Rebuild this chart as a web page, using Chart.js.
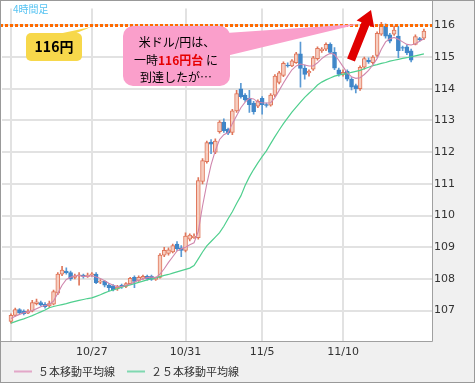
<!DOCTYPE html>
<html><head><meta charset="utf-8">
<script src="https://cdn.jsdelivr.net/npm/chart.js@4.4.1/dist/chart.umd.min.js"></script>
<style>
html,body{margin:0;padding:0;background:#f0f0f0;}
canvas{display:block;}
</style></head><body>
<canvas id="c" width="475" height="383"></canvas>
<script>
// ---- data (USD/JPY, 4-hour candles) ----
const openP  = [106.66,106.85,107.03,106.98,106.92,106.98,107.22,107.25,107.20,107.15,107.20,107.55,108.15,108.25,108.20,108.05,108.10,108.12,108.08,108.12,
108.15,107.90,107.92,107.80,107.78,107.68,107.80,107.76,107.85,108.05,107.95,108.02,108.08,108.08,107.98,108.05,108.75,108.80,108.85,109.10,
108.98,108.90,109.25,109.30,109.30,111.08,111.70,112.32,112.00,112.65,112.95,112.72,112.62,113.30,114.00,113.80,113.70,113.55,113.45,113.70,
113.50,113.48,113.80,114.20,114.42,114.75,114.72,114.82,115.10,114.65,114.50,114.62,114.95,115.20,115.25,115.40,115.15,114.60,114.45,114.55,
114.30,114.10,114.00,114.68,114.90,114.82,115.05,115.72,115.97,115.70,115.72,115.66,115.30,115.32,115.20,115.40,115.58,115.60];
const highP  = [106.90,107.08,107.06,107.02,107.03,107.32,107.36,107.30,107.25,107.30,107.65,108.20,108.40,108.35,108.25,108.15,108.20,108.15,108.18,108.20,
108.20,107.98,107.95,107.85,107.82,107.80,107.84,107.88,108.05,108.10,108.10,108.12,108.12,108.12,108.06,108.80,109.00,108.98,109.10,109.18,
109.05,109.45,109.42,109.42,111.20,111.80,112.35,112.40,112.42,113.00,113.05,112.76,113.35,113.95,114.17,113.85,113.95,113.60,113.65,113.75,
113.55,113.85,114.45,114.55,114.85,114.82,114.92,115.15,115.47,114.75,114.60,115.02,115.32,115.30,115.45,115.45,115.30,114.65,114.60,114.60,
114.35,114.15,114.72,115.00,114.98,115.05,115.80,116.10,116.05,115.75,115.98,115.97,115.35,115.38,115.25,115.70,115.62,115.88];
const lowP   = [106.60,106.82,106.90,106.86,106.90,106.96,107.18,107.15,107.08,107.10,107.18,107.50,108.10,108.15,107.95,108.00,107.80,108.02,108.05,108.08,
107.85,107.85,107.75,107.62,107.62,107.64,107.70,107.72,107.82,107.72,107.92,107.98,107.96,107.95,107.95,108.02,108.70,108.75,108.82,108.90,
108.70,108.85,109.20,109.28,109.25,111.00,111.65,111.95,111.95,112.60,112.62,112.55,112.55,113.25,113.70,113.60,113.25,113.20,113.40,113.20,
113.42,113.45,113.75,114.15,114.38,114.68,114.70,114.80,114.05,114.30,114.40,114.58,114.90,115.15,115.20,115.10,114.60,114.40,114.40,114.25,
113.96,113.87,113.95,114.62,114.80,114.78,115.00,115.68,115.60,115.45,115.68,114.98,115.20,115.08,114.85,115.38,115.50,115.55];
const closeP = [106.85,107.03,106.93,106.90,106.98,107.25,107.28,107.18,107.12,107.22,107.60,108.15,108.28,108.20,108.00,108.10,108.13,108.08,108.12,108.16,
107.88,107.93,107.80,107.72,107.65,107.74,107.75,107.85,108.02,107.92,108.05,108.08,108.00,107.98,108.02,108.75,108.90,108.92,109.05,108.95,
108.90,109.35,109.38,109.35,111.10,111.73,112.30,112.25,112.35,112.95,112.68,112.60,113.30,113.85,113.75,113.65,113.50,113.28,113.60,113.50,
113.48,113.80,114.40,114.50,114.80,114.72,114.88,115.10,114.64,114.45,114.55,114.98,115.28,115.25,115.40,115.15,114.65,114.45,114.52,114.30,
114.05,114.00,114.68,114.95,114.85,115.00,115.75,116.03,115.66,115.50,115.85,115.20,115.28,115.13,114.90,115.65,115.55,115.82];
const ma5  = [106.75,106.82,106.88,106.93,106.96,107.00,107.06,107.12,107.16,107.20,107.30,107.55,107.80,107.98,108.05,108.10,108.10,108.08,108.08,108.10,
108.06,108.01,107.94,107.86,107.80,107.76,107.76,107.80,107.84,107.90,107.96,108.00,108.04,108.06,108.04,108.15,108.32,108.52,108.70,108.88,
108.95,109.00,109.08,109.14,109.50,110.30,111.00,111.60,112.05,112.40,112.55,112.62,112.90,113.15,113.40,113.58,113.70,113.68,113.58,113.56,
113.55,113.56,113.72,113.95,114.18,114.40,114.60,114.72,114.78,114.75,114.72,114.72,114.82,114.95,115.05,115.12,115.08,114.90,114.70,114.50,
114.38,114.33,114.35,114.45,114.58,114.75,114.95,115.25,115.48,115.58,115.62,115.56,115.48,115.40,115.38,115.42,115.50,115.58];
const ma25 = [106.60,106.65,106.70,106.74,106.79,106.84,106.90,106.96,107.02,107.09,107.13,107.16,107.19,107.22,107.26,107.29,107.32,107.35,107.38,107.40,
107.45,107.50,107.56,107.61,107.65,107.69,107.74,107.78,107.81,107.85,107.89,107.93,107.97,108.00,108.03,108.07,108.11,108.14,108.18,108.22,
108.26,108.30,108.34,108.42,108.63,108.85,109.04,109.18,109.32,109.46,109.66,109.90,110.12,110.38,110.62,110.95,111.22,111.45,111.66,111.86,
112.04,112.27,112.49,112.70,112.90,113.08,113.26,113.42,113.58,113.73,113.86,113.98,114.12,114.21,114.28,114.34,114.40,114.43,114.46,114.48,
114.52,114.55,114.58,114.63,114.68,114.73,114.76,114.80,114.83,114.87,114.90,114.93,114.96,114.98,115.01,115.04,115.07,115.10];
const xTickIdx    = [0, 19, 41, 59, 78];
const xTickLabels = ['', '10/27', '10/31', '11/5', '11/10'];
const yTicks = [107,108,109,110,111,112,113,114,115,116];
const levelValue = 116;
const seriesNames = ['５本移動平均線', '２５本移動平均線'];
const titleText = '4時間足';

// ---- styles ----
const UP_FILL = '#f6cdbf', UP_LINE = '#e0765a', DN_FILL = '#3f86c8', DN_WICK = '#5a9ad4';
const tickFont = {family: 'DejaVu Sans', size: 11};
const CJK = '"Noto Sans CJK JP", sans-serif';

const isUp = i => closeP[i] >= openP[i];
const bodyData = openP.map((o, i) => {
  let a = Math.min(o, closeP[i]), b = Math.max(o, closeP[i]);
  if (b - a < 0.02) { const m = (a + b) / 2; a = m - 0.012; b = m + 0.012; }
  return {x: i, y: [a, b]};
});
const wickData = lowP.map((l, i) => ({x: i, y: [l, highP[i]]}));

const deco = {
  id: 'deco',
  beforeDraw(chart) {
    const ctx = chart.ctx, ca = chart.chartArea;
    ctx.save();
    ctx.fillStyle = '#f0f0f0';
    ctx.fillRect(0, 0, chart.width, chart.height);
    ctx.fillStyle = '#ffffff';
    ctx.fillRect(0, 0, ca.right, ca.bottom);
    ctx.restore();
  },
  afterDatasetsDraw(chart) {
    const ctx = chart.ctx, ca = chart.chartArea;
    const ys = chart.scales.y;
    const yl = Math.round(ys.getPixelForValue(levelValue));
    ctx.save();
    // dotted level line
    ctx.strokeStyle = '#ff6a00';
    ctx.lineWidth = 3;
    ctx.setLineDash([3, 2]);
    ctx.beginPath();
    ctx.moveTo(0, yl + 0.5); ctx.lineTo(ca.right, yl + 0.5);
    ctx.stroke();
    ctx.setLineDash([]);

    // yellow callout
    ctx.fillStyle = '#f7d84b';
    ctx.beginPath(); ctx.roundRect(26, 33, 56, 28, 5); ctx.fill();
    ctx.beginPath(); ctx.moveTo(58, 34); ctx.lineTo(74, 34); ctx.lineTo(91, yl + 2); ctx.closePath(); ctx.fill();
    ctx.fillStyle = '#000';
    ctx.font = 'bold 14px ' + CJK;
    ctx.textAlign = 'center'; ctx.textBaseline = 'middle';
    ctx.fillText('116円', 54, 47);

    // pink callout
    ctx.fillStyle = '#fa9fcb';
    ctx.beginPath(); ctx.roundRect(123, 26, 107, 60, 10); ctx.fill();
    ctx.beginPath(); ctx.moveTo(226, 33); ctx.lineTo(226, 56); ctx.lineTo(359, yl - 1); ctx.closePath(); ctx.fill();
    ctx.fillStyle = '#000';
    ctx.font = '12px ' + CJK;
    ctx.fillText('米ドル/円は、', 177, 42);
    ctx.fillText('到達したが…', 176, 77);
    // mixed line
    const p1 = '一時', p2 = '116円台', p3 = ' に';
    ctx.font = '12px ' + CJK; const w1 = ctx.measureText(p1).width, w3 = ctx.measureText(p3).width;
    ctx.font = 'bold 12px ' + CJK; const w2 = ctx.measureText(p2).width;
    let x0 = 176 - (w1 + w2 + w3) / 2;
    ctx.textAlign = 'left';
    ctx.font = '12px ' + CJK; ctx.fillStyle = '#000'; ctx.fillText(p1, x0, 60);
    ctx.font = 'bold 12px ' + CJK; ctx.fillStyle = '#e60000'; ctx.fillText(p2, x0 + w1, 60);
    ctx.font = '12px ' + CJK; ctx.fillStyle = '#000'; ctx.fillText(p3, x0 + w1 + w2, 60);

    // red arrow
    const tail = [351, 60], tip = [371, 10];
    const dx = tip[0] - tail[0], dy = tip[1] - tail[1], L = Math.hypot(dx, dy);
    const ux = dx / L, uy = dy / L, nx = -uy, ny = ux;
    const hl = 15, hw = 9.5, sw = 4.2;
    const bx = tip[0] - ux * hl, by = tip[1] - uy * hl;
    ctx.fillStyle = '#e00000';
    ctx.beginPath();
    ctx.moveTo(tail[0] + nx * sw, tail[1] + ny * sw);
    ctx.lineTo(bx + nx * sw, by + ny * sw);
    ctx.lineTo(bx + nx * hw, by + ny * hw);
    ctx.lineTo(tip[0], tip[1]);
    ctx.lineTo(bx - nx * hw, by - ny * hw);
    ctx.lineTo(bx - nx * sw, by - ny * sw);
    ctx.lineTo(tail[0] - nx * sw, tail[1] - ny * sw);
    ctx.closePath(); ctx.fill();

    // title
    ctx.fillStyle = '#55c3f2';
    ctx.font = '10px ' + CJK;
    ctx.textAlign = 'left'; ctx.textBaseline = 'middle';
    ctx.fillText(titleText, 13, 9);
    ctx.restore();
  },
  afterDraw(chart) {
    const ctx = chart.ctx, ca = chart.chartArea;
    ctx.save();
    // frames
    ctx.strokeStyle = '#a0a0a0'; ctx.lineWidth = 1;
    ctx.beginPath();
    ctx.moveTo(ca.right + 0.5, 0); ctx.lineTo(ca.right + 0.5, ca.bottom + 0.5);
    ctx.lineTo(0, ca.bottom + 0.5);
    ctx.stroke();
    ctx.strokeStyle = '#999999';
    ctx.strokeRect(0.5, 0.5, chart.width - 1, chart.height - 1);
    // legend
    let x = 14; const y = 371.5;
    ctx.font = '11px ' + CJK; ctx.textBaseline = 'middle'; ctx.textAlign = 'left';
    [0, 1].forEach(k => {
      const ds = chart.data.datasets[k];
      ctx.strokeStyle = ds.legendColor; ctx.lineWidth = 2;
      ctx.beginPath(); ctx.moveTo(x, y); ctx.lineTo(x + 18, y); ctx.stroke();
      ctx.fillStyle = '#333';
      ctx.fillText(ds.label, x + 24, y);
      x += 24 + ctx.measureText(ds.label).width + 12;
    });
    ctx.restore();
  }
};

new Chart(document.getElementById('c'), {
  type: 'bar',
  data: {
    datasets: [
      {type: 'line', label: seriesNames[0], data: ma5.map((v, i) => ({x: i, y: v})),
       borderColor: '#cf86ad', legendColor: '#e3a7c8', borderWidth: 1.1, pointRadius: 0, tension: 0, order: 0},
      {type: 'line', label: seriesNames[1], data: ma25.map((v, i) => ({x: i, y: v})),
       borderColor: '#4fcf8e', legendColor: '#7fd8b0', borderWidth: 1.2, pointRadius: 0, tension: 0, order: 0},
      {type: 'bar', label: 'wick', data: wickData, grouped: false, barThickness: 1, order: 2,
       backgroundColor: c => isUp(c.dataIndex) ? UP_LINE : DN_WICK, borderWidth: 0},
      {type: 'bar', label: 'body', data: bodyData, grouped: false, barThickness: 4, order: 1,
       backgroundColor: c => isUp(c.dataIndex) ? UP_FILL : DN_FILL,
       borderColor: c => isUp(c.dataIndex) ? UP_LINE : DN_FILL,
       borderWidth: 1, borderSkipped: false}
    ]
  },
  options: {
    responsive: false, animation: false, devicePixelRatio: 1,
    layout: {padding: {left: 2, top: 2, right: 0, bottom: 0}},
    plugins: {legend: {display: false}, tooltip: {enabled: false}},
    scales: {
      x: {type: 'linear', min: -2.11, max: 98.9, offset: false,
          grid: {color: '#e2e2e2', lineWidth: 2, drawTicks: false, offset: false},
          border: {display: false},
          afterBuildTicks: s => { s.ticks = xTickIdx.map(v => ({value: v})); },
          afterFit: s => { s.height = 42; },
          ticks: {font: tickFont, color: '#333', padding: 5, autoSkip: false, maxRotation: 0,
                  callback: (v, i) => xTickLabels[i]}},
      y: {type: 'linear', position: 'right', min: 106.04, max: 116.53,
          grid: {color: '#e2e2e2', lineWidth: 2, drawTicks: false},
          border: {display: false},
          afterBuildTicks: s => { s.ticks = yTicks.map(v => ({value: v})); },
          afterFit: s => { s.width = 43; },
          ticks: {font: tickFont, color: '#333', padding: 2, callback: v => String(v)}}
    }
  },
  plugins: [deco]
});
</script>
</body></html>
